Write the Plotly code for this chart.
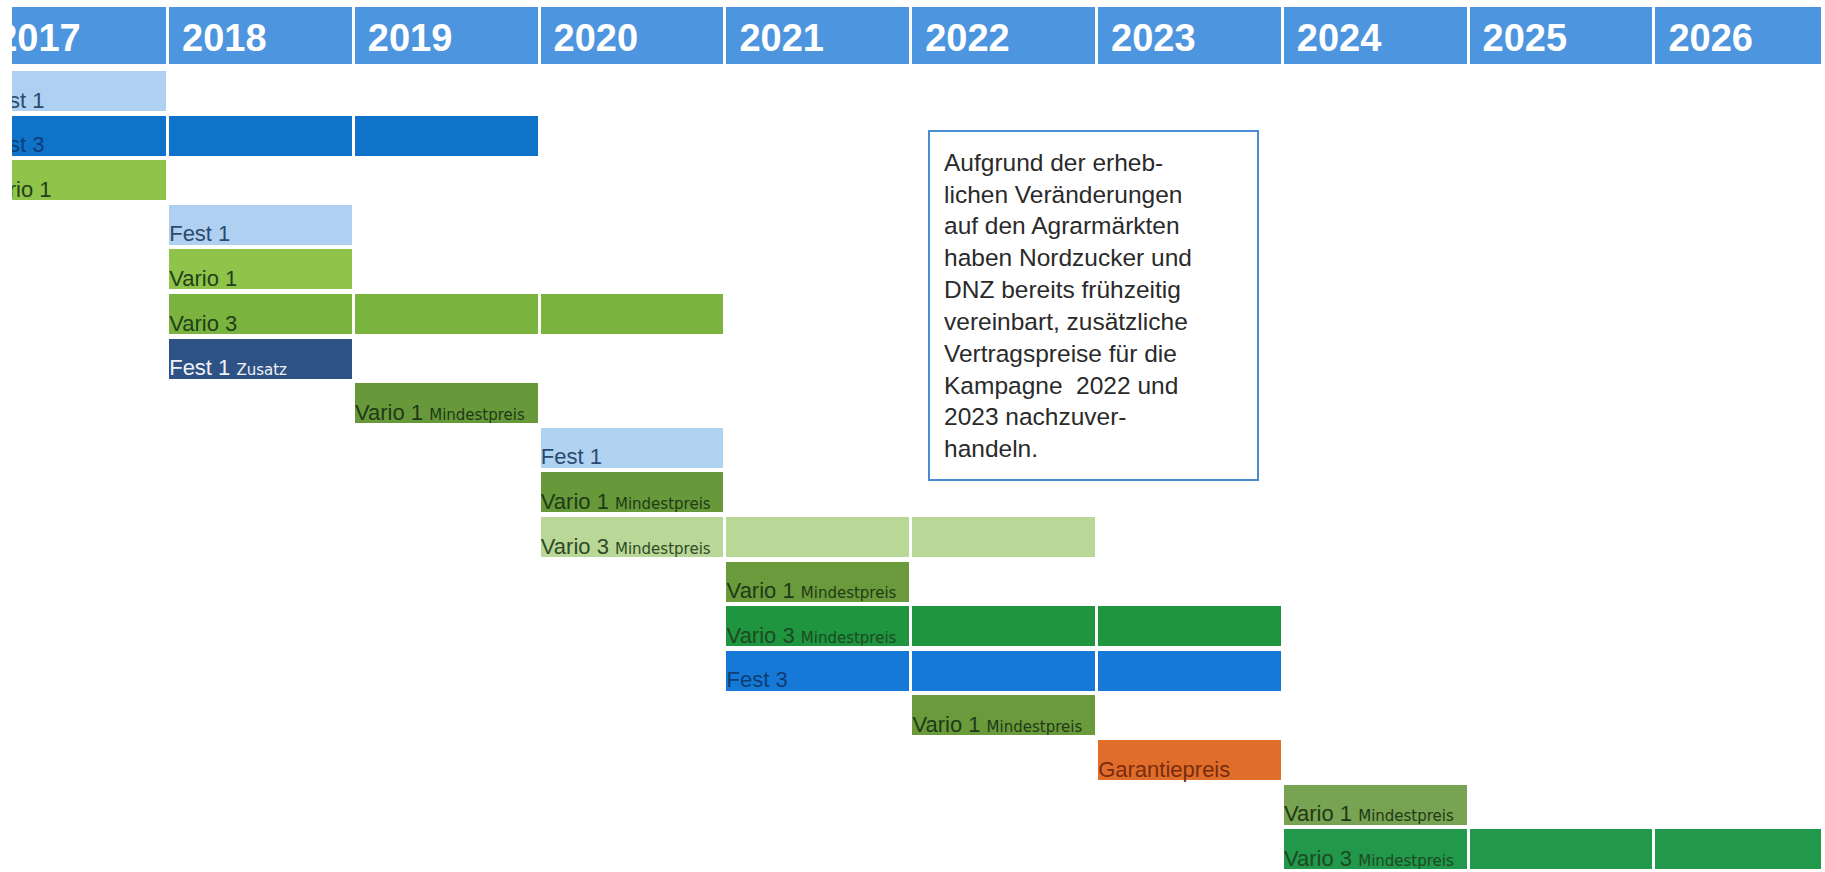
import plotly.graph_objects as go

# ---------------- data ----------------
years = [2017, 2018, 2019, 2020, 2021, 2022, 2023, 2024, 2025, 2026]

row_labels = ["Fest 1", "Fest 3", "Vario 1", "Fest 1", "Vario 1", "Vario 3", "Fest 1",
              "Vario 1", "Fest 1", "Vario 1", "Vario 3", "Vario 1", "Vario 3", "Fest 3",
              "Vario 1", "Garantiepreis", "Vario 1", "Vario 3"]
row_sublabels = ["", "", "", "", "", "", "Zusatz",
                 "Mindestpreis", "", "Mindestpreis", "Mindestpreis", "Mindestpreis", "Mindestpreis", "",
                 "Mindestpreis", "", "Mindestpreis", "Mindestpreis"]
row_start = [2017, 2017, 2017, 2018, 2018, 2018, 2018,
             2019, 2020, 2020, 2020, 2021, 2021, 2021,
             2022, 2023, 2024, 2024]
row_end = [2017, 2019, 2017, 2018, 2018, 2020, 2018,
           2019, 2020, 2020, 2022, 2021, 2023, 2023,
           2022, 2023, 2024, 2026]
row_colors = ["#afd0f0", "#0f73c9", "#90c34a", "#afd0f0", "#90c34a", "#7ab43f", "#2e5283",
              "#67993a", "#b0d3f2", "#67993a", "#b9d898", "#6a9a3c", "#1f953f", "#1679d8",
              "#6a9a3c", "#e06e2a", "#77a352", "#22984a"]
row_text_colors = ["#2b4a6f", "#0b3f78", "#22401a", "#2b4a6f", "#22401a", "#22401a", "#eef2f8",
                   "#1f3a16", "#2b4a6f", "#1f3a16", "#2f4a25", "#1f3a16", "#1d4a22", "#0d3e74",
                   "#1f3a16", "#7a2c10", "#1f3a16", "#1d4a22"]

note_lines = ["Aufgrund der erheb-", "lichen Veränderungen", "auf den Agrarmärkten",
              "haben Nordzucker und", "DNZ bereits frühzeitig", "vereinbart, zusätzliche",
              "Vertragspreise für die", "Kampagne  2022 und", "2023 nachzuver-", "handeln."]

# ---------------- layout constants (pixels) ----------------
W, H = 1825, 872
COL_W = 185.8
X_FIRST_LEFT = -17.8
PLOT_L, PLOT_R = 12, 1821
ROW_TOP0 = 71.5
ROW_PITCH = 44.6
ROW_H = 40
GAP = 3
HEAD_TOP, HEAD_BOT = 7.5, 64.5
HEADER_COLOR = "#4d95de"
FONT = "Liberation Sans, Arial, Helvetica, sans-serif"
SMALL_STYLE = "font-size:15px;font-family:DejaVu Sans, Verdana, sans-serif"


def px_to_year(p):
    return years[0] - 0.5 + (p - X_FIRST_LEFT) / COL_W


fig = go.Figure()

# header cells
head_c = (HEAD_TOP + HEAD_BOT) / 2
fig.add_trace(go.Bar(
    orientation="h",
    y=[head_c] * len(years),
    x=[1] * len(years),
    base=[y - 0.5 for y in years],
    width=[HEAD_BOT - HEAD_TOP + GAP] * len(years),
    marker=dict(color=HEADER_COLOR, line=dict(color="white", width=GAP)),
    hoverinfo="skip", showlegend=False,
))

# contract cells (one cell per year of each row)
cy, cb, cc = [], [], []
for i in range(len(row_labels)):
    centre = ROW_TOP0 + i * ROW_PITCH + ROW_H / 2
    for yr in years:
        if row_start[i] <= yr <= row_end[i]:
            cy.append(centre)
            cb.append(yr - 0.5)
            cc.append(row_colors[i])
fig.add_trace(go.Bar(
    orientation="h",
    y=cy, x=[1] * len(cy), base=cb,
    width=[ROW_H + GAP] * len(cy),
    marker=dict(color=cc, line=dict(color="white", width=GAP)),
    hoverinfo="skip", showlegend=False,
))

# header year labels
fig.add_trace(go.Scatter(
    x=[y - 0.5 + 14 / COL_W for y in years],
    y=[60.5] * len(years),
    mode="text",
    text=[str(y) for y in years],
    textposition="top right",
    textfont=dict(family=FONT, size=38, color="white", weight="bold"),
    cliponaxis=True, hoverinfo="skip", showlegend=False,
))

# row labels
texts = []
for lab, sub in zip(row_labels, row_sublabels):
    if sub:
        texts.append(f'{lab} <span style="{SMALL_STYLE}">{sub}</span>')
    else:
        texts.append(lab)
fig.add_trace(go.Scatter(
    x=[s - 0.5 + 1.2 / COL_W for s in row_start],
    y=[ROW_TOP0 + i * ROW_PITCH + ROW_H + 1.5 for i in range(len(row_labels))],
    mode="text",
    text=texts,
    textposition="top right",
    textfont=dict(family=FONT, size=22, color=row_text_colors),
    cliponaxis=True, hoverinfo="skip", showlegend=False,
))

# note box
BOX_L, BOX_T, BOX_W, BOX_H, PAD, BW = 928, 130, 331, 351, 14, 2
fig.add_annotation(
    xref="x", yref="y",
    x=px_to_year(BOX_L), y=BOX_T,
    xanchor="left", yanchor="top",
    text="<br>".join(note_lines),
    showarrow=False, align="left", valign="middle",
    width=BOX_W - 2 * PAD - 2 * BW, height=BOX_H - 2 * PAD - 2 * BW,
    bordercolor="#4a8cd4", borderwidth=BW, borderpad=PAD, bgcolor="white",
    font=dict(family=FONT, size=24.5, color="#2a2a2a"),
)

fig.update_layout(
    width=W, height=H,
    margin=dict(l=PLOT_L, r=W - PLOT_R, t=0, b=0, pad=0),
    paper_bgcolor="white", plot_bgcolor="white",
    barmode="overlay", bargap=0,
    showlegend=False,
    xaxis=dict(range=[px_to_year(PLOT_L), px_to_year(PLOT_R)], visible=False, fixedrange=True),
    yaxis=dict(range=[H, 0], visible=False, fixedrange=True),
)

fig.write_html(
    "out.html",
    config={"displayModeBar": False},
    post_script="document.body.style.margin='0';document.body.style.overflow='hidden';",
)
